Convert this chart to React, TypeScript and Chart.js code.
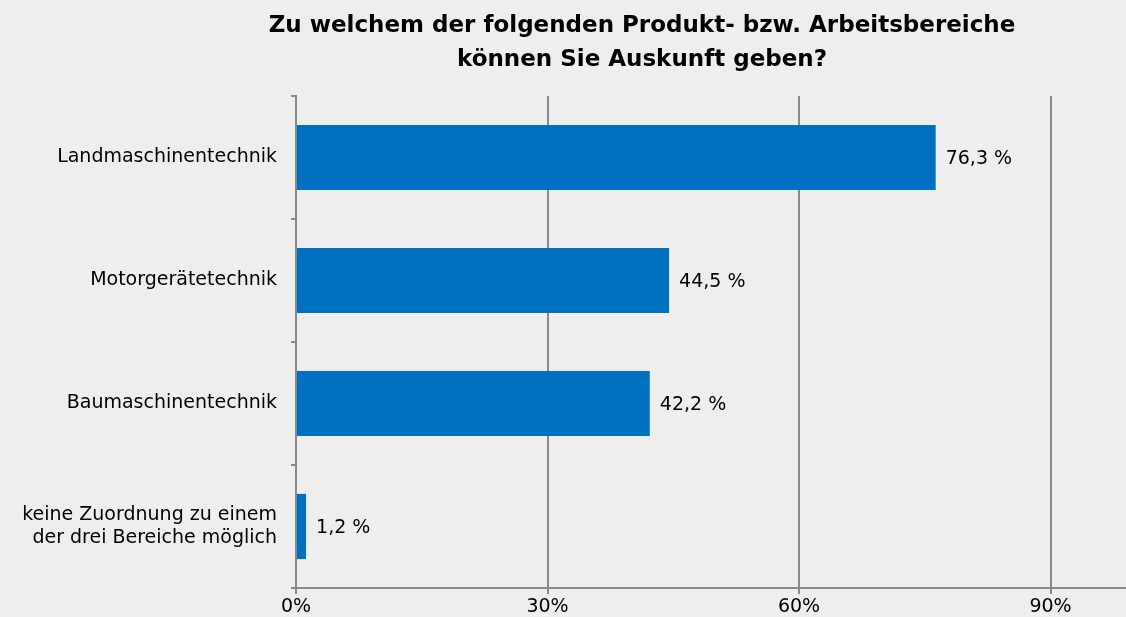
import React, { useEffect, useRef } from "react";
import { Chart, registerables } from "chart.js";

Chart.register(...registerables);

const categories: (string | string[])[] = [
  "Landmaschinentechnik",
  "Motorgerätetechnik",
  "Baumaschinentechnik",
  ["keine Zuordnung zu einem", "der drei Bereiche möglich"],
];
const values = [76.3, 44.5, 42.2, 1.2];
const valueLabels = ["76,3 %", "44,5 %", "42,2 %", "1,2 %"];
const xTicks = [0, 30, 60, 90];
const titleLines = [
  "Zu welchem der folgenden Produkt- bzw. Arbeitsbereiche",
  "können Sie Auskunft geben?",
];

const FONT = "'DejaVu Sans', sans-serif";

const titlePlugin = {
  id: "customTitle",
  afterDraw(chart: any) {
    const ctx = chart.ctx;
    ctx.save();
    ctx.fillStyle = "#000";
    ctx.font = `bold 23px ${FONT}`;
    ctx.textAlign = "center";
    ctx.textBaseline = "middle";
    ctx.fillText(titleLines[0], 642, 26);
    ctx.fillText(titleLines[1], 642, 60);
    ctx.restore();
  },
};

const valueLabelPlugin = {
  id: "valueLabels",
  afterDatasetsDraw(chart: any) {
    const ctx = chart.ctx;
    const meta = chart.getDatasetMeta(0);
    ctx.save();
    ctx.fillStyle = "#000";
    ctx.font = `19px ${FONT}`;
    ctx.textAlign = "left";
    ctx.textBaseline = "middle";
    meta.data.forEach((bar: any, i: number) => {
      ctx.fillText(valueLabels[i], bar.x + 10, bar.y + 2);
    });
    ctx.restore();
  },
};

export default function App() {
  const ref = useRef<HTMLCanvasElement>(null);
  useEffect(() => {
    if (!ref.current) return;
    const chart = new Chart(ref.current, {
      type: "bar",
      data: {
        labels: categories as any,
        datasets: [
          {
            data: values,
            backgroundColor: "#0070C0",
            borderWidth: 0,
            categoryPercentage: 1,
            barPercentage: 0.53,
          },
        ],
      },
      options: {
        indexAxis: "y",
        animation: false,
        responsive: false,
        maintainAspectRatio: false,
        layout: { padding: { top: 96, left: 0, right: 0, bottom: 0 } },
        plugins: { legend: { display: false }, tooltip: { enabled: false }, title: { display: false } },
        scales: {
          x: {
            type: "linear",
            min: 0,
            max: 99,
            afterBuildTicks(scale: any) {
              scale.ticks = xTicks.map((v) => ({ value: v }));
            },
            afterFit(scale: any) {
              scale.height = 29;
            },
            ticks: {
              callback: (v: any) => `${v}%`,
              color: "#000",
              font: { family: FONT, size: 19, lineHeight: 1.0 },
              padding: 4,
              maxRotation: 0,
            },
            grid: {
              color: "#8a8a8a",
              lineWidth: 2,
              tickLength: 6,
              drawTicks: true,
            },
            border: { color: "#8a8a8a", width: 2 },
          },
          y: {
            type: "category",
            offset: true,
            afterFit(scale: any) {
              scale.width = 296;
            },
            ticks: {
              color: "#000",
              font: { family: FONT, size: 19, lineHeight: 1.25 },
              padding: 14,
              crossAlign: "near",
            },
            grid: {
              offset: true,
              drawOnChartArea: false,
              color: "#8a8a8a",
              lineWidth: 2,
              tickLength: 5,
            },
            border: { color: "#8a8a8a", width: 2 },
          },
        },
      },
      plugins: [titlePlugin, valueLabelPlugin],
    });
    return () => chart.destroy();
  }, []);
  return (
    <div
      style={{
        position: "fixed",
        left: 0,
        top: 0,
        width: 1126,
        height: 617,
        background: "#eeeeee",
      }}
    >
      <canvas ref={ref} width={1126} height={617} />
    </div>
  );
}
